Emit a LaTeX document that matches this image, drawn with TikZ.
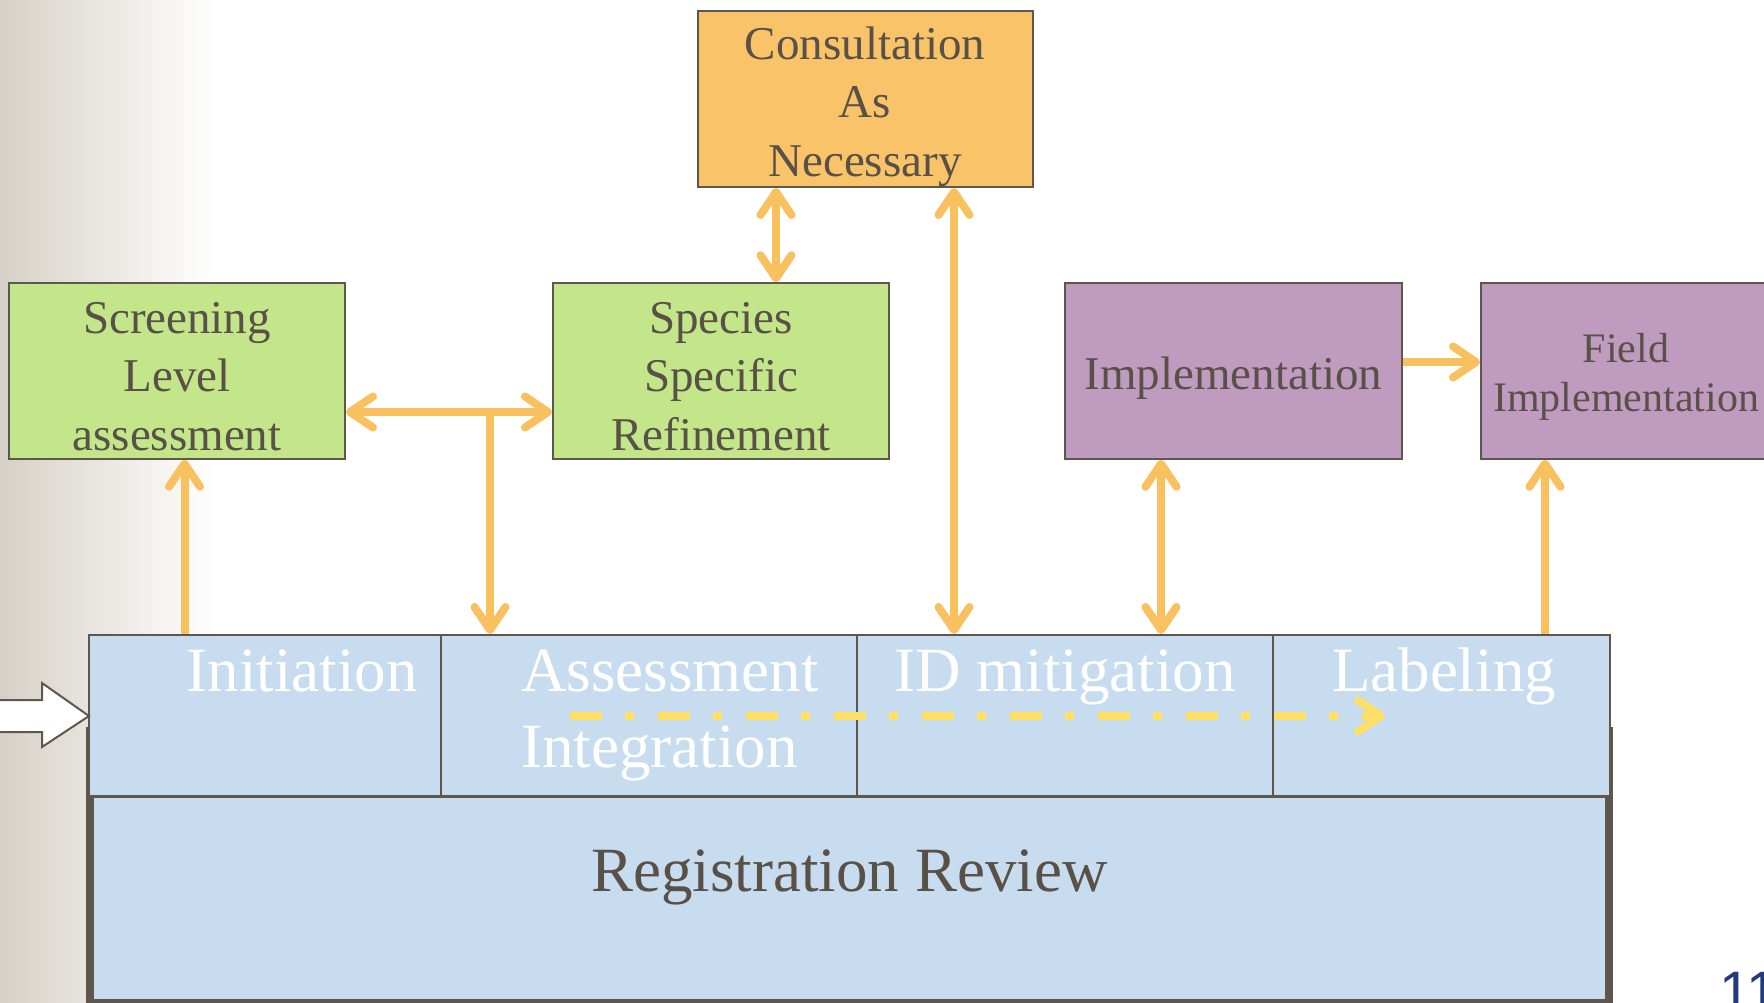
\documentclass[tikz,border=0pt]{standalone}
\usepackage{fontspec}
\setmainfont{Liberation Serif}
\setsansfont{Liberation Sans}
\usetikzlibrary{arrows.meta}
\definecolor{bgl}{HTML}{D6D1C7}
\definecolor{orng}{HTML}{F9C060}
\definecolor{yell}{HTML}{FFE066}
\definecolor{consc}{HTML}{F9C369}
\definecolor{grn}{HTML}{C4E68A}
\definecolor{purp}{HTML}{BF9BBF}
\definecolor{blu}{HTML}{C8DCF0}
\definecolor{bord}{HTML}{5F574E}
\definecolor{shad}{HTML}{5E554B}
\definecolor{txt}{HTML}{595047}
\definecolor{navy}{HTML}{243A7D}
\newcommand\topstrut[1]{\rule{0pt}{#1pt}}
\tikzset{
  box/.style={draw=bord, line width=2pt, inner sep=0pt, align=center, text=txt,
    minimum height=175.5pt, font=\fontsize{47}{58.5}\selectfont},
  cell/.style={draw=bord, line width=2pt, fill=blu, inner sep=0pt, minimum height=161pt},
  celltext/.style={text=white, inner sep=0pt, font=\fontsize{63}{70}\selectfont},
  arr/.style={draw=orng, line width=8pt},
  dashline/.style={draw=yell, line width=8pt, dash pattern=on 32pt off 23pt on 9pt off 24pt},
  >={Straight Barb[length=23pt,width=31pt,round]}
}
\begin{document}
\begin{tikzpicture}[x=1pt,y=-1pt]
\useasboundingbox (0,0) rectangle (1764,1003);
\shade[left color=bgl, right color=white] (0,0) rectangle (215,1003);

% shadow behind the review block
\fill[shad] (86,727) rectangle (1613,1006);

% phase cells
\node[cell, minimum width=352pt] (ini) at (265,715.5) {};
\node[cell, minimum width=416pt] (ass) at (649,715.5) {};
\node[cell, minimum width=416pt] (idm) at (1065,715.5) {};
\node[cell, minimum width=337pt] (lab) at (1441.5,715.5) {};
\node[draw=bord, line width=2pt, fill=blu, inner sep=0pt, minimum width=1513pt, minimum height=203pt] (reg) at (849.5,898.5) {};
\node[text=txt, inner sep=0pt, anchor=base, font=\fontsize{63}{70}\selectfont] (regt) at (849.5,891) {Registration Review};

\node[celltext, anchor=base] (init) at (302,691) {Initiation};
\node[celltext, anchor=base west] (asst) at (521,691) {Assessment};
\node[celltext, anchor=base west] (intt) at (521,767) {Integration};
\node[celltext, anchor=base] (idmt) at (1065,691) {ID mitigation};
\node[celltext, anchor=base] (labt) at (1444,691) {Labeling};

% white block arrow on the left
\draw[draw=bord, fill=white, line width=2pt, line join=miter]
  (-5,700) -- (42,700) -- (42,683) -- (89,716) -- (42,747) -- (42,732) -- (-5,732) -- cycle;

% upper boxes
\node[box, fill=consc, minimum width=335pt, minimum height=176pt] (cons) at (865,99) {\topstrut{48}Consultation\\As\\Necessary};
\node[box, fill=grn, minimum width=336pt] (scr) at (177,371) {\topstrut{42}Screening\\Level\\assessment};
\node[box, fill=grn, minimum width=336pt] (spec) at (721,371) {\topstrut{42}Species\\Specific\\Refinement};
\node[box, fill=purp, minimum width=337pt] (impl) at (1233.5,371) {\topstrut{48}Implementation};
\node[box, fill=purp, minimum width=290pt, font=\fontsize{42}{49}\selectfont] (field) at (1626,371) {\topstrut{41}Field\\Implementation};

% connectors
\coordinate (xa) at (776,0);
\coordinate (xb) at (954,0);
\coordinate (yc) at (0,412);
\coordinate (j) at (490,412);
\coordinate (xd) at (184.5,0);
\coordinate (xe) at (1161,0);
\coordinate (yf) at (0,362);
\coordinate (xg) at (1545,0);

\draw[arr, <->] (cons.south -| xa) -- (spec.north -| xa);
\draw[arr, <->] (cons.south -| xb) -- (idm.north -| xb);
\draw[arr, <->] (scr.east |- yc) -- (spec.west |- yc);
\draw[arr, ->] (j) -- (ass.north -| j);
\draw[arr, ->] (ini.north -| xd) -- (scr.south -| xd);
\draw[arr, <->] (impl.south -| xe) -- (idm.north -| xe);
\draw[arr, ->] (impl.east |- yf) -- (field.west |- yf);
\draw[arr, ->] (lab.north -| xg) -- (field.south -| xg);

% dash-dot flow arrow
\coordinate (ds) at (570,716);
\coordinate (de) at (1385,716);
\draw[dashline, ->] (ds) -- (de);

% page number fragment
\node[font=\sffamily\fontsize{57}{60}\selectfont, text=navy, anchor=base west, inner sep=0pt] (pg) at (1719,1011) {11};
\end{tikzpicture}
\end{document}
